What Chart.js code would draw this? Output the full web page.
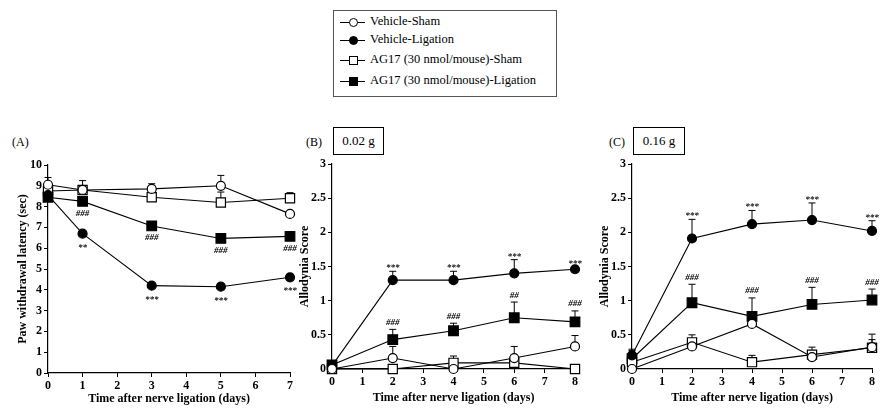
<!DOCTYPE html>
<html>
<head>
<meta charset="utf-8">
<script src="https://cdn.jsdelivr.net/npm/chart.js@4.4.0/dist/chart.umd.min.js"></script>
<style>
body { margin: 0; background: #fff; width: 886px; height: 409px; position: relative; overflow: hidden; font-family: "Liberation Serif", serif; color: #000; }
canvas { position: absolute; }
.tag { position: absolute; font-size: 12px; }
.dose { position: absolute; border: 1px solid #000; font-size: 13px; text-align: center; box-sizing: border-box; }
#legend { position: absolute; left: 333px; top: 10px; width: 224px; height: 87px; border: 1px solid #555; box-sizing: border-box; }
.row { position: absolute; left: 0; height: 14px; width: 220px; }
.row .ln { position: absolute; left: 6px; top: 7px; width: 25px; border-top: 1px solid #000; }
.row .mk { position: absolute; box-sizing: border-box; border: 1.2px solid #000; background: #fff; }
.row .mk.c { left: 15px; top: 3px; width: 9px; height: 9px; border-radius: 50%; }
.row .mk.s { left: 15px; top: 3px; width: 9px; height: 9px; }
.row .mk.f { background: #000; }
.row span { position: absolute; left: 36px; top: -1px; font-size: 12.5px; white-space: nowrap; }
</style>
</head>
<body>
<div id="legend">
  <div class="row" style="top:4px"><div class="ln"></div><div class="mk c"></div><span>Vehicle-Sham</span></div>
  <div class="row" style="top:22px"><div class="ln"></div><div class="mk c f"></div><span>Vehicle-Ligation</span></div>
  <div class="row" style="top:42px"><div class="ln"></div><div class="mk s"></div><span>AG17 (30 nmol/mouse)-Sham</span></div>
  <div class="row" style="top:63px"><div class="ln"></div><div class="mk s f"></div><span>AG17 (30 nmol/mouse)-Ligation</span></div>
</div>

<div class="tag" style="left:12px;top:135px">(A)</div>
<div class="tag" style="left:306px;top:135px">(B)</div>
<div class="tag" style="left:609px;top:135px">(C)</div>
<div class="dose" style="left:333px;top:127px;width:51px;height:28px;line-height:26px">0.02 g</div>
<div class="dose" style="left:633px;top:127px;width:52px;height:28px;line-height:26px">0.16 g</div>

<canvas id="chartA" width="300" height="279" style="left:0px;top:130px"></canvas>
<canvas id="chartB" width="300" height="279" style="left:290px;top:130px"></canvas>
<canvas id="chartC" width="296" height="279" style="left:590px;top:130px"></canvas>

<script>
// (A) paw withdrawal latency
var daysA = [0, 1, 3, 5, 7];
var vsA = [9.05, 8.8, 8.85, 9.0, 7.65];
var vsAerr = [0.35, 0.1, 0.25, 0.5, 0.1];
var vlA = [8.55, 6.7, 4.2, 4.15, 4.6];
var vlAerr = [0.1, 0.1, 0.1, 0.15, 0.1];
var asA = [8.75, 8.8, 8.45, 8.2, 8.4];
var asAerr = [0.2, 0.45, 0.1, 0.5, 0.27];
var alA = [8.45, 8.25, 7.07, 6.47, 6.57];
var alAerr = [0.15, 0.1, 0.1, 0.1, 0.1];
var starsA = ['', '**', '***', '***', '***'];
var hashA = ['', '###', '###', '###', '###'];

// (B) 0.02 g
var daysB = [0, 2, 4, 6, 8];
var vsB = [0, 0.16, 0.0, 0.16, 0.33];
var vsBerr = [0, 0.17, 0, 0.17, 0.16];
var vlB = [0.05, 1.3, 1.3, 1.4, 1.46];
var vlBerr = [0, 0.13, 0.13, 0.2, 0.03];
var asB = [0, 0, 0.09, 0.09, 0];
var asBerr = [0, 0, 0.1, 0.08, 0];
var alB = [0.06, 0.43, 0.56, 0.75, 0.69];
var alBerr = [0.02, 0.15, 0.11, 0.23, 0.16];
var starsB = ['', '***', '***', '***', '***'];
var hashB = ['', '###', '###', '##', '###'];

// (C) 0.16 g
var daysC = [0, 2, 4, 6, 8];
var vsC = [0, 0.33, 0.66, 0.175, 0.32];
var vsCerr = [0, 0.05, 0.03, 0.05, 0.11];
var vlC = [0.2, 1.91, 2.12, 2.18, 2.02];
var vlCerr = [0.09, 0.28, 0.2, 0.25, 0.15];
var asC = [0.1, 0.39, 0.1, 0.21, 0.31];
var asCerr = [0.05, 0.11, 0.1, 0.11, 0.2];
var alC = [0.15, 0.97, 0.77, 0.945, 1.01];
var alCerr = [0.12, 0.27, 0.27, 0.25, 0.16];
var starsC = ['', '***', '***', '***', '***'];
var hashC = ['', '###', '###', '###', '###'];

var tickFont = { family: 'Liberation Serif', size: 12, weight: 'bold' };
var titleFont = { family: 'Liberation Serif', size: 12, weight: 'bold' };

function pts(days, vals) {
  return days.map(function (d, i) { return { x: d, y: vals[i] }; });
}

function serie(days, vals, err, style, filled, r) {
  return {
    data: pts(days, vals),
    err: err,
    borderColor: '#000',
    borderWidth: 1.1,
    pointStyle: style,
    pointRadius: r,
    pointHoverRadius: r,
    pointBorderWidth: 1.2,
    pointBorderColor: '#000',
    pointBackgroundColor: filled ? '#000' : '#fff',
    clip: false,
    tension: 0
  };
}

var errBars = {
  id: 'errBars',
  beforeDatasetsDraw: function (chart) {
    var ctx = chart.ctx, xs = chart.scales.x, ys = chart.scales.y;
    ctx.save();
    ctx.strokeStyle = '#000';
    ctx.lineWidth = 1;
    chart.data.datasets.forEach(function (ds) {
      ds.data.forEach(function (p, j) {
        var e = ds.err[j];
        if (!e) return;
        var px = xs.getPixelForValue(p.x);
        var y0 = ys.getPixelForValue(p.y), y1 = ys.getPixelForValue(p.y + e);
        ctx.beginPath();
        ctx.moveTo(px, y0); ctx.lineTo(px, y1);
        ctx.moveTo(px - 3.5, y1); ctx.lineTo(px + 3.5, y1);
        ctx.stroke();
      });
    });
    ctx.restore();
  }
};

function makePanel(id, days, sets, marks, xMax, yMax, yStep, yTitle, pad, yW, xH, below) {
  var sigMarks = {
    id: 'sigMarks',
    afterDatasetsDraw: function (chart) {
      var ctx = chart.ctx, xs = chart.scales.x, ys = chart.scales.y;
      ctx.save();
      ctx.fillStyle = '#000';
      ctx.font = 'italic bold 9px "Liberation Serif"';
      ctx.textAlign = 'center';
      ctx.textBaseline = 'alphabetic';
      marks.forEach(function (m) {
        m.text.forEach(function (t, j) {
          if (!t) return;
          var px = xs.getPixelForValue(days[j]);
          var star = t.charAt(0) == '*';
          var y;
          if (below) {
            y = ys.getPixelForValue(m.vals[j]) + (star ? 16 : 14.5);
          } else {
            y = ys.getPixelForValue(m.vals[j] + m.err[j]) - (star ? 1 : 4.5);
          }
          ctx.fillText(t, px, y);
        });
      });
      ctx.restore();
    }
  };

  return new Chart(document.getElementById(id), {
    type: 'line',
    data: { datasets: sets },
    options: {
      responsive: false,
      animation: false,
      layout: { padding: pad, autoPadding: false },
      plugins: { legend: { display: false }, tooltip: { enabled: false } },
      scales: {
        x: {
          type: 'linear', min: 0, max: xMax,
          ticks: { stepSize: 1, color: '#000', font: tickFont, padding: 2, maxRotation: 0 },
          grid: { drawOnChartArea: false, drawTicks: true, tickLength: 4, color: '#000' },
          border: { display: true, color: '#000', width: 1.2 },
          title: { display: true, text: 'Time after nerve ligation (days)', color: '#000', font: titleFont, padding: 0 },
          afterFit: function (s) { s.height = xH; }
        },
        y: {
          min: 0, max: yMax,
          ticks: {
            stepSize: yStep, color: '#000', font: tickFont, padding: 2,
            callback: function (v) { return String(v); }
          },
          grid: { drawOnChartArea: false, drawTicks: true, tickLength: 4, color: '#000' },
          border: { display: true, color: '#000', width: 1.2 },
          title: { display: true, text: yTitle, color: '#000', font: titleFont, padding: 0 },
          afterFit: function (s) { s.width = yW; }
        }
      }
    },
    plugins: [errBars, sigMarks]
  });
}

makePanel('chartA', daysA, [
  serie(daysA, vsA, vsAerr, 'circle', false, 4.5),
  serie(daysA, vlA, vlAerr, 'circle', true, 4.5),
  serie(daysA, asA, asAerr, 'rect', false, 6.5),
  serie(daysA, alA, alAerr, 'rect', true, 6.8)
], [
  { vals: vlA, err: vlAerr, text: starsA },
  { vals: alA, err: alAerr, text: hashA }
], 7, 10, 1, 'Paw withdrawal latency (sec)',
  { left: 16, top: 35, right: 10, bottom: 3 }, 32, 33, true);

makePanel('chartB', daysB, [
  serie(daysB, vsB, vsBerr, 'circle', false, 4.5),
  serie(daysB, vlB, vlBerr, 'circle', true, 4.5),
  serie(daysB, asB, asBerr, 'rect', false, 6.5),
  serie(daysB, alB, alBerr, 'rect', true, 6.8)
], [
  { vals: vlB, err: vlBerr, text: starsB },
  { vals: alB, err: alBerr, text: hashB }
], 8, 3, 0.5, 'Allodynia Score',
  { left: 8, top: 34, right: 15, bottom: 4 }, 34, 36, false);

makePanel('chartC', daysC, [
  serie(daysC, vsC, vsCerr, 'circle', false, 4.5),
  serie(daysC, vlC, vlCerr, 'circle', true, 4.5),
  serie(daysC, asC, asCerr, 'rect', false, 6.5),
  serie(daysC, alC, alCerr, 'rect', true, 6.8)
], [
  { vals: vlC, err: vlCerr, text: starsC },
  { vals: alC, err: alCerr, text: hashC }
], 8, 3, 0.5, 'Allodynia Score',
  { left: 8, top: 34, right: 14, bottom: 4 }, 34, 36, false);
</script>
</body>
</html>
